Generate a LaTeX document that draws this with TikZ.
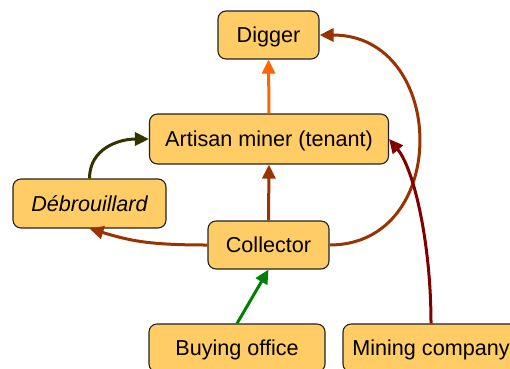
\documentclass[tikz,border=0pt]{standalone}
\usepackage{fontspec}
\setmainfont{Liberation Sans}
\usetikzlibrary{arrows.meta}
\definecolor{boxfill}{HTML}{FFCC66}
\definecolor{boxline}{HTML}{222222}
\definecolor{corange}{HTML}{FF6600}
\definecolor{cbrown}{HTML}{993300}
\definecolor{colive}{HTML}{333300}
\definecolor{cdarkred}{HTML}{800000}
\definecolor{cgreen}{HTML}{008000}
\tikzset{
  box/.style={draw=boxline, fill=boxfill, line width=1.1pt, rounded corners=8pt,
    inner sep=0pt, text height=15pt, text depth=0pt,
    font=\fontsize{21.6}{25}\selectfont},
  conn/.style={line width=3pt, -{Triangle[length=14pt,width=13pt]}},
}
\begin{document}
\begin{tikzpicture}[x=1pt,y=-1pt]
\useasboundingbox (0,0) rectangle (510,368);
\clip (0,0) rectangle (510,368);
\node[box, minimum width=101pt, minimum height=48pt] (digger) at (268.5,35) {Digger};
\node[box, minimum width=239pt, minimum height=50pt] (artisan) at (269,139) {Artisan miner (tenant)};
\node[box, minimum width=153pt, minimum height=49pt] (debr) at (89.5,203.5) {\itshape Débrouillard};
\node[box, minimum width=121pt, minimum height=48pt] (collector) at (268.5,245) {Collector};
\node[box, minimum width=176pt, minimum height=48pt] (buying) at (237,348) {Buying office};
\node[box, minimum width=176pt, minimum height=48pt] (mining) at (431,348) {Mining company};

\draw[conn, corange] (artisan.north) -- (digger.south);
\draw[conn, cbrown] (collector.north) -- (artisan.south);
\draw[conn, cbrown] (collector.west) .. controls +(-60,0) and +(40,12) .. (debr.south);
\draw[conn, colive] (debr.north) .. controls +(0,-30) and +(-30,0) .. (artisan.west);
\draw[conn, cbrown] (collector.east) .. controls +(122,0) and +(128,0) .. (digger.east);
\draw[conn, cdarkred] (mining.north) .. controls +(0,-80) and +(25,30) .. (artisan.east);
\draw[conn, cgreen] (buying.north) -- (collector.south);
\end{tikzpicture}
\end{document}
